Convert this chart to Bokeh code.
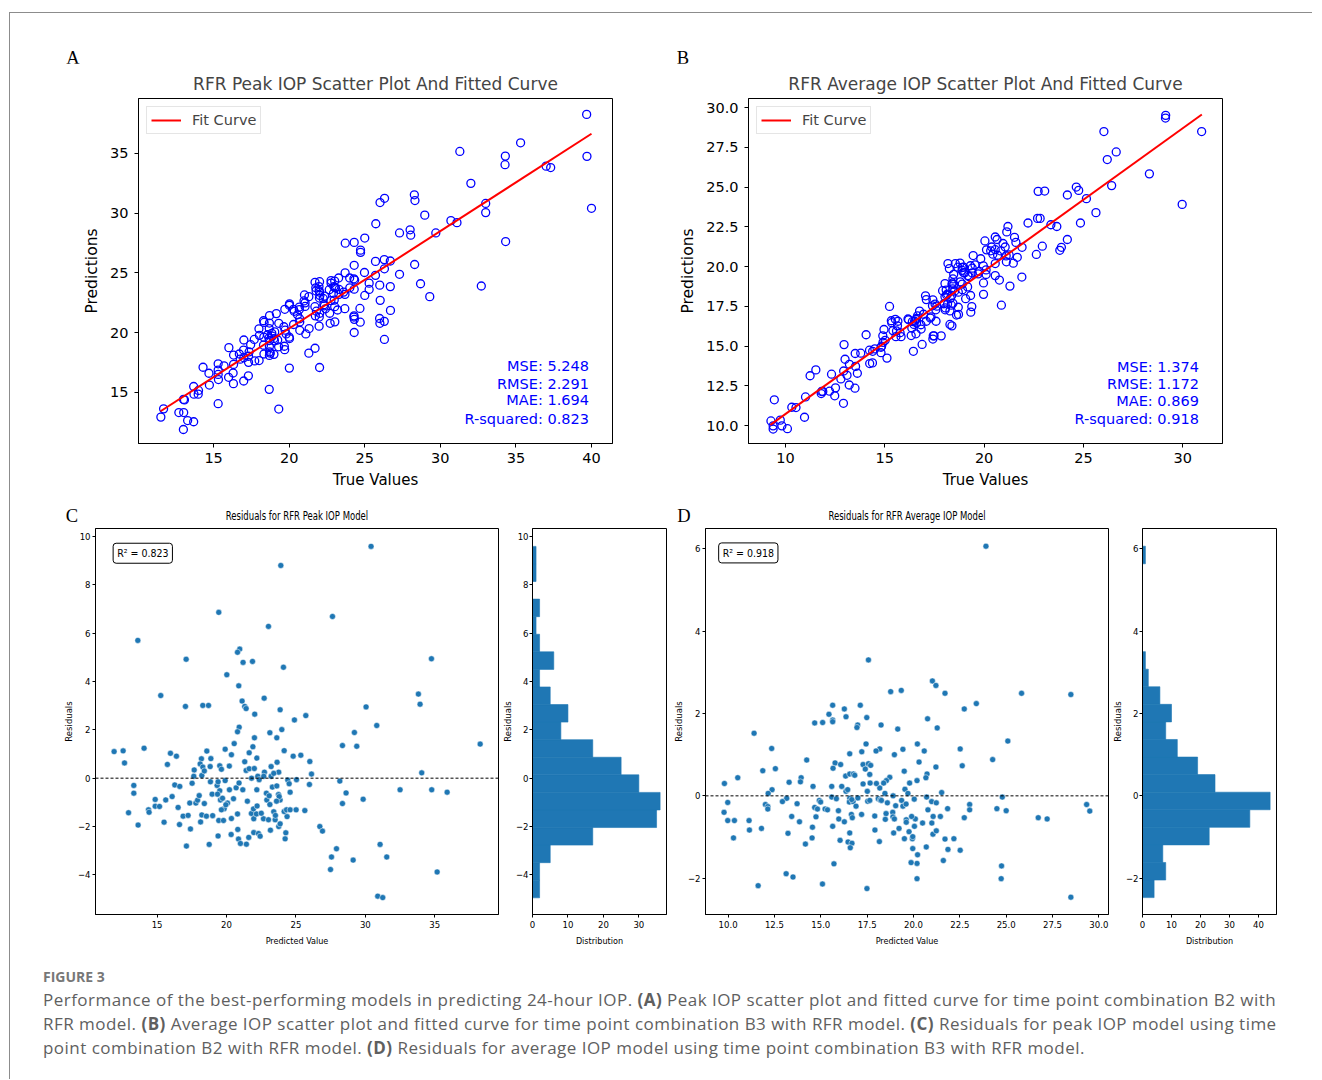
import numpy as np
from bokeh.plotting import figure
from bokeh.models import (Label, Legend, LegendItem, Range1d, FixedTicker, Spacer, Div, Span,
                          NumeralTickFormatter)
from bokeh.layouts import row, column
from bokeh.embed import file_html
from bokeh.resources import INLINE

# ---------------- data: peak IOP model (C residuals: predicted, residual) ----------------
peak_pred = [30.41, 23.91, 19.44, 27.63, 23.02, 13.61, 20.95, 20.79, 17.09, 21.19, 21.87, 34.76, 24.10, 20.02,
             20.88, 33.82, 33.94, 15.26, 17.04, 18.29, 18.70, 21.12, 21.31, 21.41, 22.71, 23.86, 22.03, 25.71,
             30.05, 24.89, 30.82, 20.91, 23.98, 20.79, 23.12, 29.21, 22.01, 23.62, 20.55, 28.35, 29.38, 38.27,
             11.90, 12.55, 14.06, 12.65, 15.96, 16.39, 15.74, 18.58, 18.19, 18.87, 18.10, 18.29, 18.82, 17.67,
             17.64, 18.22, 19.51, 19.63, 20.35, 21.63, 21.31, 21.41, 21.63, 22.18, 22.25, 22.35, 22.73, 22.68,
             23.21, 23.21, 23.64, 23.76, 24.15, 24.80, 25.35, 26.00, 26.12, 25.04, 24.41, 24.51, 25.97, 28.16,
             34.06, 32.50, 34.78, 35.89, 28.61, 29.84, 28.35, 13.32, 13.32, 12.94, 14.86, 14.86, 15.17, 14.38,
             14.42, 15.62, 15.50, 13.63, 16.27, 16.63, 16.08, 16.51, 16.61, 16.87, 17.23, 17.11, 17.40, 17.35,
             17.52, 17.79, 17.91, 18.03, 18.13, 18.22, 18.55, 18.75, 18.84, 18.96, 19.32, 19.39, 19.51, 19.35,
             19.56, 19.71, 19.83, 19.63, 19.44, 19.78, 19.39, 20.07, 19.95, 20.21, 20.35, 20.33, 20.69, 20.79,
             20.81, 20.86, 21.00, 21.17, 21.43, 21.79, 21.94, 21.96, 21.96, 22.15, 22.18, 22.30, 22.42, 22.66,
             22.87, 22.90, 23.07, 23.02, 23.12, 23.16, 23.30, 23.40, 23.50, 23.52, 23.62, 23.74, 23.76, 23.86,
             23.86, 23.79, 24.15, 24.32, 24.36, 24.27, 24.22, 24.58, 24.58, 25.01, 25.64, 26.72, 26.91, 27.56,
             27.49, 27.92, 29.12, 31.06, 31.54, 30.89, 31.25, 35.17,
             21.6, 19.0, 22.5, 18.4, 20.5, 21.5, 22.2, 23.6, 20.9, 21.8, 19.9, 18.4, 20.2, 22.0, 23.4, 19.9, 21.9]
peak_resid = [9.59, 8.80, 6.86, 6.69, 6.28, 5.70, 5.34, 5.21, 4.92, 4.79, 4.83, 4.94, 4.59, 4.28,
              3.82, 3.48, 3.06, 3.42, 2.97, 3.01, 3.01, 3.19, 2.97, 2.88, 3.31, 2.83, 2.65, 2.59,
              2.95, 2.41, 2.18, 2.11, 2.01, 1.92, 1.88, 1.89, 1.67, 1.67, 1.43, 1.35, 1.32, 1.41,
              1.10, 1.13, 1.24, 0.63, 1.03, 0.91, 0.57, 1.12, 0.80, 0.81, 0.59, 0.46, 0.48, 0.34,
              0.08, 0.11, 0.51, 0.37, 0.97, 1.05, 0.68, 0.32, 0.39, 0.83, 0.08, -0.06, 0.25, 0.08,
              0.48, 0.08, 0.66, 0.25, 1.14, 0.91, 0.95, 0.69, 0.17, -0.06, -0.08, -0.23, -0.26, -0.12,
              0.22, -0.48, -0.48, -0.58, -0.61, -0.87, -1.05, -0.30, -0.62, -1.43, -0.88, -1.16, -1.17, -1.31,
              -1.41, -0.90, -1.82, -1.94, -0.28, -0.34, -0.76, -1.21, -1.92, -1.57, -1.54, -2.81, -2.10, -1.03,
              -0.21, -1.03, -0.91, -0.72, -1.81, -1.52, -1.57, -2.74, -0.15, -0.66, -0.30, -0.15, -0.52, -0.66,
              -0.90, -0.83, -1.26, -1.31, -1.75, -1.75, -2.39, -1.03, -1.10, -0.48, -1.67, -2.33, -0.40, -1.48,
              -2.12, -2.52, -2.70, -0.48, -2.73, -1.46, -1.27, -1.68, -2.25, -1.48, -0.48, -2.29, -2.40, -1.68,
              -0.62, -0.90, -0.73, -1.72, -1.09, -2.15, -0.37, -1.39, -1.72, -1.54, -0.32, -0.68, -2.00, -1.89,
              -0.90, -0.76, -1.38, -1.31, -1.59, -2.26, -2.51, -1.31, -0.58, -1.31, -1.34, -2.00, -2.19, -3.26,
              -3.78, -2.92, -3.39, -2.74, -3.26, -4.88, -4.94, -3.88,
              -2.45, -1.55, -1.45, -1.05, -0.85, -0.95, -1.15, -0.95, -0.2, 0.0, -0.1, 0.3, 0.5, 0.4, 0.2, 1.2, 1.3]

# ---------------- data: average IOP model (D residuals: predicted, residual) ----------------
avg_pred = [23.91, 17.57, 21.02, 21.21, 18.77, 19.34, 21.70, 25.83, 28.49, 23.39, 17.13, 15.64, 22.74, 16.27,
            16.36, 17.48, 15.44, 15.64, 15.64, 14.67, 15.10, 16.99, 16.95, 18.25, 20.76, 21.28, 19.15, 11.40,
            25.09, 17.44, 20.21, 12.35, 18.18, 17.98, 19.43, 17.21, 20.58, 22.52, 18.97, 16.56, 14.24, 24.27,
            20.30, 15.77, 16.07, 17.28, 17.57, 17.69, 22.63, 21.21, 15.66, 12.55, 11.87, 10.52, 13.94, 13.90,
            13.29, 9.80, 16.34, 16.56, 16.76, 16.83, 17.64, 17.28, 17.66, 18.72, 18.54, 18.39, 18.18, 19.79,
            20.19, 20.73, 20.67, 16.36, 16.45, 14.58, 15.59, 16.13, 12.37, 12.16, 17.51, 18.46, 19.54, 19.70,
            21.52, 20.71, 24.79, 15.59, 13.16, 9.98, 12.93, 14.92, 14.99, 15.84, 16.56, 16.54, 16.74, 16.67,
            17.53, 17.64, 18.10, 18.21, 18.27, 18.59, 19.36, 20.04, 20.98, 21.23, 13.72, 12.01, 12.14, 12.14,
            14.67, 14.82, 15.23, 15.36, 15.95, 19.04, 19.43, 18.88, 18.89, 18.97, 18.52, 18.48, 17.91, 16.65,
            16.70, 15.97, 16.27, 14.74, 13.43, 13.85, 9.78, 9.98, 10.34, 11.13, 11.15, 11.80, 10.29, 14.55,
            14.53, 14.17, 13.23, 15.64, 16.04, 16.47, 16.68, 16.59, 16.56, 17.92, 18.16, 19.22, 18.93, 19.51,
            19.61, 19.61, 19.76, 19.94, 19.96, 19.96, 20.05, 20.10, 20.49, 20.22, 20.19, 19.87, 20.19, 20.69,
            20.78, 20.99, 21.06, 21.05, 21.23, 21.45, 21.84, 21.70, 21.86, 21.61, 22.18, 22.52, 22.74, 23.03,
            23.03, 24.50, 25.00, 24.75, 24.73, 26.73, 27.21, 29.34, 29.51, 28.49, 17.49, 15.09, 13.13, 13.50,
            11.62, 15.71,
            17.2, 19.9, 17.0, 18.9, 19.6, 16.9, 18.0, 17.4, 19.5]
avg_resid = [6.06, 3.30, 2.79, 2.68, 2.53, 2.56, 2.49, 2.49, 2.46, 2.24, 2.20, 2.20, 2.11, 2.11,
             1.92, 1.90, 1.98, 1.84, 1.80, 1.77, 1.78, 1.72, 1.66, 1.72, 1.87, 1.65, 1.62, 1.52,
             1.33, 1.26, 1.26, 1.15, 1.14, 1.09, 1.13, 1.07, 1.09, 1.14, 1.00, 1.02, 0.87, 0.88,
             0.82, 0.80, 0.76, 0.76, 0.78, 0.74, 0.73, 0.70, 0.67, 0.66, 0.61, 0.44, 0.44, 0.34,
             0.33, 0.30, 0.48, 0.53, 0.53, 0.50, 0.52, 0.29, 0.31, 0.45, 0.37, 0.31, 0.19, 0.31,
             0.37, 0.53, 0.44, 0.11, 0.15, 0.23, 0.23, 0.23, 0.15, 0.06, 0.11, 0.06, 0.16, 0.06,
             0.08, -0.03, -0.03, -0.03, -0.06, -0.16, -0.14, -0.11, -0.15, -0.07, -0.06, -0.15, -0.14, -0.09,
             -0.13, -0.11, -0.07, -0.10, -0.11, -0.17, -0.11, -0.08, -0.14, -0.17, -0.19, -0.21, -0.26, -0.32,
             -0.28, -0.32, -0.32, -0.34, -0.36, -0.24, -0.25, -0.40, -0.51, -0.56, -0.43, -0.57, -0.49, -0.45,
             -0.53, -0.56, -0.63, -0.51, -0.50, -0.63, -0.40, -0.60, -0.60, -0.60, -0.83, -0.79, -1.02, -0.76,
             -1.02, -1.17, -0.91, -0.74, -1.08, -1.12, -1.15, -1.26, -0.90, -0.83, -1.11, -0.79, -0.90, -1.04,
             -0.58, -0.64, -0.87, -1.04, -0.99, -1.28, -0.74, -0.56, -0.66, -1.43, -1.64, -1.62, -2.01, -1.24,
             -0.34, -0.66, -0.50, -0.93, -0.85, -0.50, -0.31, -1.05, -1.30, -1.57, -1.04, -1.32, -0.53, -0.21,
             -0.34, -0.31, -0.36, -1.70, -2.01, -0.53, -0.56, -0.21, -0.37, -2.46, -2.25, -2.14, -1.89, -1.97,
             -2.18, -1.65,
             -0.45, -0.50, -0.05, 0.0, -0.20, -0.25, 0.30, 0.65, 0.60]

# true value = prediction + residual (panels A and B)
peak_true = [p + r for p, r in zip(peak_pred, peak_resid)]
avg_true = [p + r for p, r in zip(avg_pred, avg_resid)]

peak_fit_x = [11.49, 40.0]
peak_fit_y = [13.43, 36.65]
avg_fit_x = [9.24, 30.96]
avg_fit_y = [10.04, 29.56]

peak_stats = ["MSE: 5.248", "RMSE: 2.291", "MAE: 1.694", "R-squared: 0.823"]
avg_stats = ["MSE: 1.374", "RMSE: 1.172", "MAE: 0.869", "R-squared: 0.918"]
peak_r2 = "R\u00b2 = 0.823"
avg_r2 = "R\u00b2 = 0.918"

# histogram counts (20 bins between min and max residual)
peak_hist_counts = [2, 2, 5, 17, 35, 36, 30, 25, 17, 8, 10, 5, 2, 6, 2, 1, 2, 0, 1, 1]
peak_hist_range = (-4.95, 9.59)
avg_hist_counts = [4, 8, 7, 23, 37, 44, 25, 19, 12, 8, 10, 6, 2, 1, 0, 0, 0, 0, 0, 1]
avg_hist_range = (-2.47, 6.06)

titles = ["RFR Peak IOP Scatter Plot And Fitted Curve", "RFR Average IOP Scatter Plot And Fitted Curve",
          "Residuals for RFR Peak IOP Model", "Residuals for RFR Average IOP Model"]
panel_letters = ["A", "B", "C", "D"]

MINUS = "\u2212"
MAIN_FONT = "DejaVu Sans"
SMALL_FONT = "DejaVu Sans Condensed"
LETTER_FONT = "Liberation Serif"


def style_axes(p, tick_size, label_size, tick_out=4, font=MAIN_FONT):
    p.grid.visible = False
    p.outline_line_color = "black"
    p.outline_line_width = 1
    for ax in (p.xaxis[0], p.yaxis[0]):
        ax.axis_line_color = "black"
        ax.major_tick_line_color = "black"
        ax.major_tick_out = tick_out
        ax.major_tick_in = 0
        ax.minor_tick_line_color = None
        ax.major_label_text_font = font
        ax.major_label_text_font_size = tick_size
        ax.major_label_text_color = "black"
        ax.axis_label_text_font = font
        ax.axis_label_text_font_size = label_size
        ax.axis_label_text_font_style = "normal"
        ax.axis_label_text_color = "black"


def scatter_panel(title, xs, ys, fx, fy, stats, xr, yr, xticks, yticks, width, mleft, mright,
                  stat_x, stat_ys, ylabel_fmt=None):
    p = figure(width=width, height=437, x_range=Range1d(*xr), y_range=Range1d(*yr),
               output_backend="svg", toolbar_location=None,
               min_border_left=mleft, min_border_right=mright, min_border_top=35, min_border_bottom=57,
               title=title, x_axis_label="True Values", y_axis_label="Predictions")
    p.title.text_font = MAIN_FONT
    p.title.text_font_size = "17px"
    p.title.text_font_style = "normal"
    p.title.align = "center"
    style_axes(p, "14.5px", "15px")
    p.yaxis.axis_label_text_font_size = "15.5px"
    p.xaxis.ticker = FixedTicker(ticks=xticks)
    p.yaxis.ticker = FixedTicker(ticks=yticks)
    if ylabel_fmt:
        p.yaxis.formatter = NumeralTickFormatter(format=ylabel_fmt)
    p.xaxis.major_label_standoff = 5
    p.yaxis.major_label_standoff = 6
    p.xaxis.axis_label_standoff = 5
    p.yaxis.axis_label_standoff = 6
    p.scatter(xs, ys, marker="circle", size=8, fill_color=None, line_color="#0000ff", line_width=1.3)
    ln = p.line(fx, fy, line_color="#ff0000", line_width=2)
    leg = Legend(items=[LegendItem(label="Fit Curve", renderers=[ln])], location="top_left")
    leg.label_text_font = MAIN_FONT
    leg.label_text_font_size = "14.5px"
    leg.border_line_color = "#cccccc"
    leg.background_fill_alpha = 0.8
    leg.margin = 8
    leg.padding = 4
    leg.spacing = 0
    leg.glyph_width = 30
    leg.glyph_height = 18
    leg.label_height = 18
    leg.label_standoff = 11
    p.add_layout(leg)
    for s, yy in zip(stats, stat_ys):
        p.add_layout(Label(x=stat_x, y=yy, text=s, text_align="right", text_baseline="middle",
                           text_color="#0000ff", text_font=MAIN_FONT, text_font_size="14.5px"))
    return p


pA = scatter_panel(titles[0], peak_true, peak_pred, peak_fit_x, peak_fit_y, peak_stats,
                   (10.03, 41.39), (10.73, 39.6), [15, 20, 25, 30, 35, 40], [15, 20, 25, 30, 35],
                   630, 128, 28, 39.83, [17.18, 15.75, 14.33, 12.82])
pB = scatter_panel(titles[1], avg_true, avg_pred, avg_fit_x, avg_fit_y, avg_stats,
                   (8.14, 32.0), (8.87, 30.57), [10, 15, 20, 25, 30],
                   [10, 12.5, 15, 17.5, 20, 22.5, 25, 27.5, 30],
                   674, 108, 92, 30.81, [13.71, 12.64, 11.57, 10.44], ylabel_fmt="0.0")


def resid_panel(xs, ys, xr, yr, xticks, yticks, width, mleft, mright, r2text, r2x, r2y, xfmt=None):
    p = figure(width=width, height=429, x_range=Range1d(*xr), y_range=Range1d(*yr),
               output_backend="svg", toolbar_location=None,
               min_border_left=mleft, min_border_right=mright, min_border_top=2, min_border_bottom=41,
               x_axis_label="Predicted Value", y_axis_label="Residuals")
    style_axes(p, "9.5px", "9px", tick_out=3, font=SMALL_FONT)
    p.yaxis.axis_label_text_font = MAIN_FONT
    p.yaxis.axis_label_text_font_size = "8.5px"
    p.xaxis.ticker = FixedTicker(ticks=xticks)
    p.yaxis.ticker = FixedTicker(ticks=yticks)
    if xfmt:
        p.xaxis.formatter = NumeralTickFormatter(format=xfmt)
    p.yaxis.major_label_overrides = {t: (MINUS + str(-t)) for t in yticks if t < 0}
    p.xaxis.major_label_standoff = 3
    p.yaxis.major_label_standoff = 2
    p.xaxis.axis_label_standoff = 5
    p.yaxis.axis_label_standoff = 1
    p.add_layout(Span(location=0, dimension="width", line_color="black", line_width=1, line_dash="3 2"))
    p.scatter(xs, ys, marker="circle", size=6, fill_color="#1f77b4", line_color="white", line_width=0.5)
    p.add_layout(Label(x=r2x, y=r2y, text=r2text, text_align="left", text_baseline="top",
                       text_font=SMALL_FONT, text_font_size="10.5px", text_color="black",
                       border_line_color="black", border_line_width=1, background_fill_color="white",
                       padding=4, border_radius=3))
    return p


def hist_panel(counts, hrange, xr, yr, xticks, yticks, width, mleft, mright):
    p = figure(width=width, height=429, x_range=Range1d(*xr), y_range=Range1d(*yr),
               output_backend="svg", toolbar_location=None,
               min_border_left=mleft, min_border_right=mright, min_border_top=2, min_border_bottom=41,
               x_axis_label="Distribution", y_axis_label="Residuals")
    style_axes(p, "9.5px", "9px", tick_out=3, font=SMALL_FONT)
    p.yaxis.axis_label_text_font = MAIN_FONT
    p.yaxis.axis_label_text_font_size = "8.5px"
    p.xaxis.ticker = FixedTicker(ticks=xticks)
    p.yaxis.ticker = FixedTicker(ticks=yticks)
    p.yaxis.major_label_overrides = {t: (MINUS + str(-t)) for t in yticks if t < 0}
    p.xaxis.major_label_standoff = 3
    p.yaxis.major_label_standoff = 1
    p.xaxis.axis_label_standoff = 5
    p.yaxis.axis_label_standoff = 0
    n = len(counts)
    edges = np.linspace(hrange[0], hrange[1], n + 1)
    centers = (edges[:-1] + edges[1:]) / 2
    p.hbar(y=centers, height=edges[1] - edges[0], left=0, right=counts,
           fill_color="#1f77b4", line_color="#1f77b4", line_width=0.6)
    return p


pC = resid_panel(peak_pred, peak_resid, (10.56, 39.59), (-5.64, 10.33),
                 [15, 20, 25, 30, 35], [-4, -2, 0, 2, 4, 6, 8, 10], 489, 85, 1, peak_r2, 11.83, 9.72)
hC = hist_panel(peak_hist_counts, peak_hist_range, (0, 37.8), (-5.64, 10.33), [0, 10, 20, 30],
                [-4, -2, 0, 2, 4, 6, 8, 10], 171, 32, 4)
pD = resid_panel(avg_pred, avg_resid, (8.78, 30.52), (-2.88, 6.49),
                 [10, 12.5, 15, 17.5, 20, 22.5, 25, 27.5, 30], [-2, 0, 2, 4, 6], 439, 35, 1, avg_r2, 9.49, 6.14,
                 xfmt="0.0")
hD = hist_panel(avg_hist_counts, avg_hist_range, (0, 46.2), (-2.88, 6.49), [0, 10, 20, 30, 40],
                [-2, 0, 2, 4, 6], 205, 33, 38)


def span(txt, left, top, extra=""):
    return ("<span style='position:absolute; left:%dpx; top:%dpx; transform:translate(-50%%,-50%%)%s; "
            "line-height:1; white-space:nowrap;'>%s</span>" % (left, top, extra, txt))


letter_style = "font-family:\"Liberation Serif\"; font-size:18.5px; color:#000;"
header1 = Div(text=("<div style='position:relative; width:1304px; height:50px; %s'>" % letter_style
                    + span(panel_letters[0], 63, 45) + span(panel_letters[1], 673, 45) + "</div>"),
              width=1304, height=50, styles={"margin": "0", "padding": "0"})

small_title_style = "font-family:\"DejaVu Sans\"; font-size:11.5px; color:#000;"
header2 = Div(text=("<div style='position:relative; width:1304px; height:26px;'>"
                    "<div style='%s'>" % letter_style
                    + span(panel_letters[2], 62, 16) + span(panel_letters[3], 674, 16) + "</div>"
                    "<div style='%s'>" % small_title_style
                    + span(titles[2], 287, 17, " scaleX(0.74)") + span(titles[3], 897, 17, " scaleX(0.74)")
                    + "</div></div>"),
              width=1304, height=26, styles={"margin": "0", "padding": "0"})

caption_html = (
    "<div style='font-family:\"Open Sans\", sans-serif; color:#5f5f5f; margin:0; padding:0;'>"
    "<div style='font-size:14px; font-weight:bold; color:#777777; line-height:18px; margin-top:13px;'>FIGURE 3</div>"
    "<div style='font-size:17px; line-height:24px; white-space:nowrap; margin-top:2px; letter-spacing:0.47px;'>"
    "Performance of the best-performing models in predicting 24-hour IOP. <b>(A)</b> Peak IOP scatter plot and fitted curve for time point combination B2 with<br>"
    "RFR model. <b>(B)</b> Average IOP scatter plot and fitted curve for time point combination B3 with RFR model. <b>(C)</b> Residuals for peak IOP model using time<br>"
    "point combination B2 with RFR model. <b>(D)</b> Residuals for average IOP model using time point combination B3 with RFR model."
    "</div></div>"
)
caption = Div(text=caption_html, width=1270, height=100, styles={"margin": "0", "padding": "0"})

GREY = "#8c8c8c"
content = column(header1, row(pA, pB), header2, row(pC, hC, pD, hD),
                 row(Spacer(width=33, height=100), caption))
top_line = row(Spacer(width=9, height=1), Spacer(width=1303, height=1, styles={"background-color": GREY}))
body = row(Spacer(width=9, height=1066), Spacer(width=1, height=1066, styles={"background-color": GREY}), content)
root = column(Spacer(width=1312, height=12), top_line, body)

open("out.html", "w").write(file_html(root, INLINE))
